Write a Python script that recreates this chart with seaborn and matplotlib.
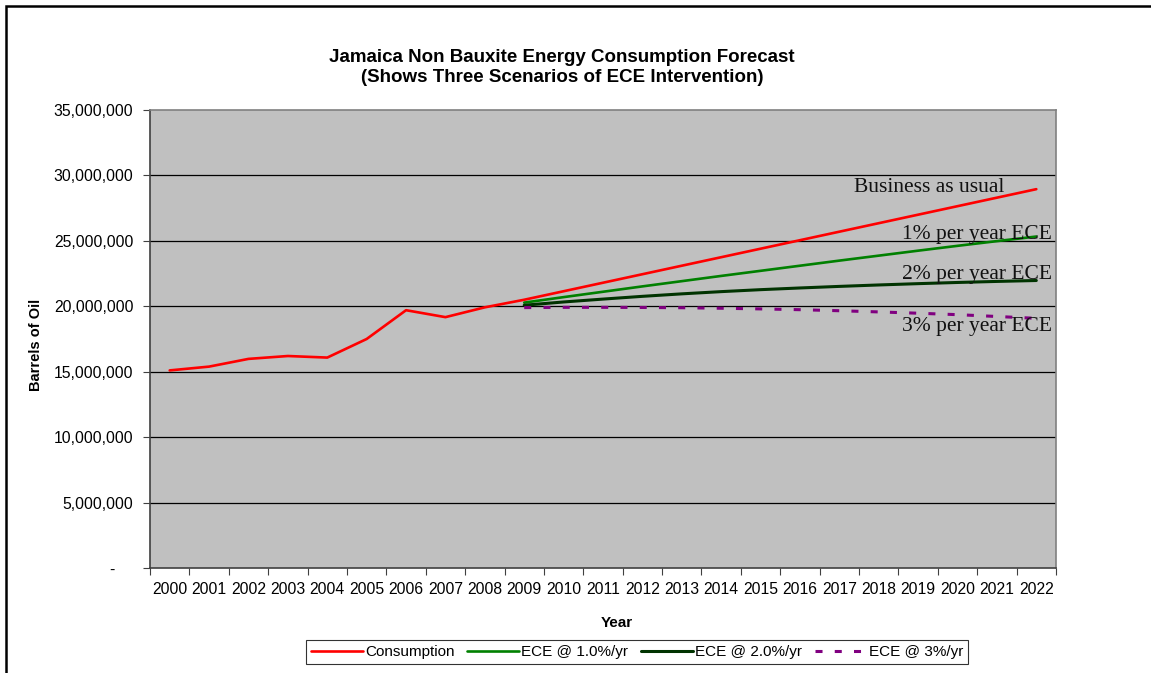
import numpy as np
import pandas as pd
import matplotlib
matplotlib.use("Agg")
import matplotlib.pyplot as plt
import seaborn as sns
from matplotlib.ticker import FuncFormatter, FixedLocator
from matplotlib.patches import Rectangle

# ---------------- data (barrels of oil) ----------------
years = ["2000", "2001", "2002", "2003", "2004", "2005", "2006", "2007",
         "2008", "2009", "2010", "2011", "2012", "2013", "2014", "2015",
         "2016", "2017", "2018", "2019", "2020", "2021", "2022"]

consumption = [15100000, 15390000, 15980000, 16200000, 16080000, 17500000,
               19700000, 19170000, 19920000, 20500000, 21150000, 21800000,
               22450000, 23100000, 23750000, 24400000, 25050000, 25700000,
               26350000, 27000000, 27650000, 28300000, 28950000]

nan = np.nan
ece_1 = [nan] * 9 + [20280000, 20700000, 21110000, 21520000, 21920000,
                     22320000, 22710000, 23100000, 23490000, 23870000,
                     24250000, 24620000, 24980000, 25330000]
ece_2 = [nan] * 9 + [20080000, 20330000, 20550000, 20760000, 20950000,
                     21120000, 21270000, 21400000, 21520000, 21630000,
                     21730000, 21820000, 21900000, 21970000]
ece_3 = [nan] * 9 + [19900000, 19920000, 19920000, 19910000, 19890000,
                     19850000, 19800000, 19740000, 19660000, 19570000,
                     19470000, 19360000, 19220000, 19080000]

series_names = ["Consumption", "ECE @ 1.0%/yr", "ECE @ 2.0%/yr", "ECE @ 3%/yr"]
y_ticks = [0, 5000000, 10000000, 15000000, 20000000, 25000000, 30000000, 35000000]

annot_texts = ["Business as usual", "1% per year ECE", "2% per year ECE", "3% per year ECE"]

# ---------------- figure ----------------
sns.set_theme(style="white")
plt.rcParams["font.family"] = ["Liberation Sans", "DejaVu Sans"]
plt.rcParams["text.color"] = "black"

W, H = 1151, 673
fig = plt.figure(figsize=(W / 100, H / 100), dpi=100)
fig.patch.set_facecolor("white")

left, right, top, bottom = 150 / W, 1056 / W, 110 / H, 568 / H
ax = fig.add_axes([left, 1 - bottom, right - left, bottom - top])
ax.set_facecolor("#C0C0C0")

idx = np.arange(len(years))
df = pd.DataFrame({"idx": idx, "Consumption": consumption,
                   "ECE1": ece_1, "ECE2": ece_2, "ECE3": ece_3})

colors = ["#FF0000", "#008000", "#003300", "#800080"]
cols = ["Consumption", "ECE1", "ECE2", "ECE3"]
lws = [1.9, 1.9, 2.2, 2.2]
for col, c, lw, name in zip(cols, colors, lws, series_names):
    sub = df.dropna(subset=[col])
    sns.lineplot(data=sub, x="idx", y=col, ax=ax, color=c, linewidth=lw,
                 label=name, legend=False, zorder=3)
lines = ax.get_lines()
lines[3].set_dashes((2.3, 4.0))
lines[3].set_dash_capstyle("butt")

# axes limits and ticks
ax.set_xlim(-0.5, len(years) - 0.5)
ax.set_ylim(0, 35000000)

ax.xaxis.set_major_locator(FixedLocator(np.arange(-0.5, len(years), 1.0)))
ax.set_xticklabels([], minor=False)
ax.set_xticks(idx, minor=True)
ax.set_xticklabels(years, minor=True, fontsize=11.3, color="black")
ax.tick_params(axis="x", which="major", direction="out", length=5, width=0.8,
               color="#404040", bottom=True)
ax.tick_params(axis="x", which="minor", length=0, pad=10, bottom=True)

ax.set_yticks(y_ticks)
ax.yaxis.set_major_formatter(FuncFormatter(
    lambda v, p: "-    " if v == 0 else f"{v:,.0f}"))
ax.tick_params(axis="y", direction="out", length=5, width=0.8,
               color="#404040", labelsize=11.3, labelcolor="black", left=True, pad=7)

for yv in y_ticks[1:-1]:
    ax.axhline(yv, color="black", linewidth=0.9, zorder=1)

for s in ["left", "bottom"]:
    ax.spines[s].set_color("#404040")
    ax.spines[s].set_linewidth(1.2)
for s in ["top", "right"]:
    ax.spines[s].set_color("#808080")
    ax.spines[s].set_linewidth(1.2)
ax.spines["top"].set_zorder(4)

ax.set_xlabel("")
ax.set_ylabel("")

# annotations
annot_pos = [(21.2, 29070000), (22.4, 25480000), (22.4, 22420000), (22.4, 18440000)]
for t, (xp, yp) in zip(annot_texts, annot_pos):
    ax.text(xp, yp, t, ha="right", va="center", fontsize=15.5,
            family=["Liberation Serif", "DejaVu Serif"], color="#111111", zorder=5)

# titles & labels
fig.text(562 / W, 1 - 58 / H, "Jamaica Non Bauxite Energy Consumption Forecast",
         ha="center", va="center", fontsize=13.5, fontweight="bold", color="black")
fig.text(562 / W, 1 - 78 / H, "(Shows Three Scenarios of ECE Intervention)",
         ha="center", va="center", fontsize=13.5, fontweight="bold", color="black")
fig.text(36 / W, 1 - 345 / H, "Barrels of Oil", rotation=90, ha="center",
         va="center", fontsize=10.5, fontweight="bold", color="black")
fig.text(617 / W, 1 - 623 / H, "Year", ha="center", va="center",
         fontsize=11, fontweight="bold", color="black")

# legend
leg = fig.legend(handles=lines, labels=series_names, loc="center",
                 bbox_to_anchor=(637 / W, 1 - 652 / H), ncol=4, frameon=True,
                 fontsize=11, handlelength=3.4, handletextpad=0.12,
                 columnspacing=0.85, borderpad=0.3, fancybox=False)
leg.get_frame().set_edgecolor("black")
leg.get_frame().set_linewidth(0.8)
for t in leg.get_texts():
    t.set_color("black")

# outer chart border (left and top visible)
fig.add_artist(Rectangle((6 / W, -0.05), 1.2, 1.05 - 6 / H,
                         transform=fig.transFigure, fill=False,
                         edgecolor="black", linewidth=1.8))

fig.savefig("out.png", dpi=100, facecolor="white")
